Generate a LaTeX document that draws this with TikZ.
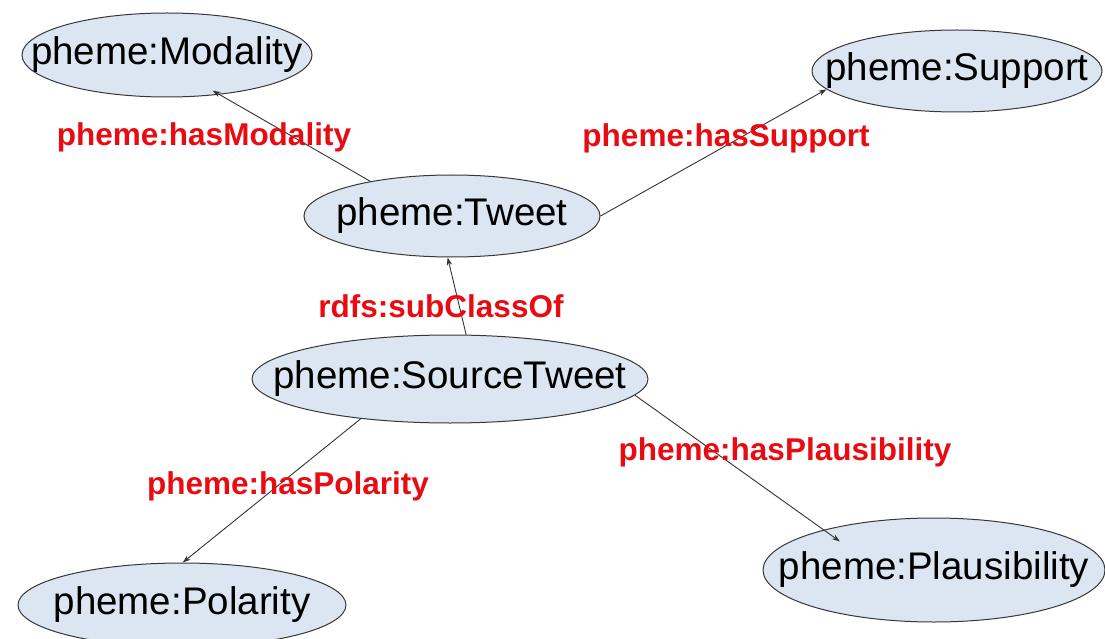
\documentclass[tikz,border=0pt]{standalone}
\usepackage{fontspec}
\setmainfont{Liberation Sans}
\usepackage{tikz}
\usetikzlibrary{arrows.meta,shapes.geometric}

\definecolor{clsfill}{RGB}{220,230,242}
\definecolor{clsline}{RGB}{55,55,55}
\definecolor{proplabel}{RGB}{232,12,18}
% class name as a zero-width box, so the ellipse keeps its own size
\newcommand{\clstext}[1]{\makebox[0pt]{#1}}

\begin{document}
\begin{tikzpicture}[x=1pt,y=-1pt,>={Stealth[length=8pt,width=5.5pt]},
  cls/.style={ellipse,draw=clsline,fill=clsfill,line width=1pt,inner sep=0pt,font=\fontsize{38.5}{40}\selectfont},
  prop/.style={text=proplabel,inner sep=0pt,font=\fontsize{31.5}{33}\selectfont\bfseries},
  rel/.style={->,draw=black!80,line width=0.9pt}]
  \useasboundingbox (0,0) rectangle (1105,639);

  % classes
  \node[cls,minimum width=290pt,minimum height=84pt] (mod) at (167,55) {\clstext{pheme:Modality}};
  \node[cls,minimum width=290pt,minimum height=82pt] (sup) at (957,71) {\clstext{pheme:Support}};
  \node[cls,minimum width=296pt,minimum height=82pt] (tw) at (452,216) {\clstext{pheme:Tweet}};
  \node[cls,minimum width=396pt,minimum height=88pt] (src) at (450,379) {\clstext{pheme:SourceTweet}};
  \node[cls,minimum width=328pt,minimum height=84pt] (pol) at (182,605) {\clstext{pheme:Polarity}};
  \node[cls,minimum width=342pt,minimum height=104pt] (pla) at (934,570) {\clstext{pheme:Plausibility}};

  % properties
  \draw[rel,shorten >=-8pt] (tw.157) -- (mod.-37);
  \draw[rel] (tw.0) -- (sup.188);
  \draw[rel] (src.70) -- (tw.-96);
  \draw[rel] (src.204) -- (pol.89);
  \draw[rel,shorten >=-20pt] (src.-5) -- (pla.160);

  \node[prop] (lmod) at (204,137) {pheme:hasModality};
  \node[prop] (lsup) at (726,138) {pheme:hasSupport};
  \node[prop] (lsub) at (441,306) {rdfs:subClassOf};
  \node[prop] (lpol) at (288,486) {pheme:hasPolarity};
  \node[prop] (lpla) at (785,452) {pheme:hasPlausibility};
\end{tikzpicture}
\end{document}
